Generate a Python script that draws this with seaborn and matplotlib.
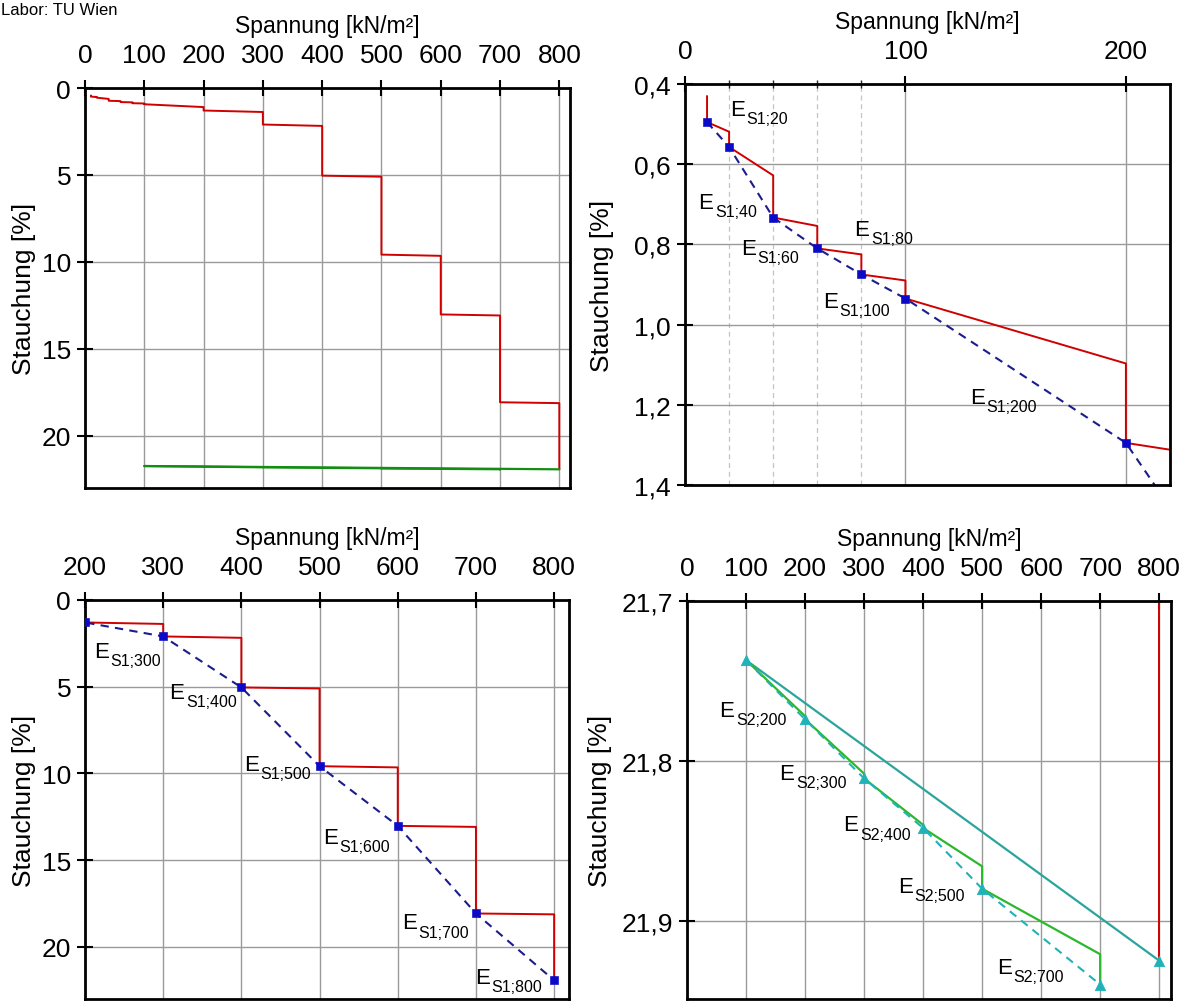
import matplotlib
matplotlib.use('Agg')
import matplotlib.pyplot as plt
import seaborn as sns
from matplotlib.ticker import FuncFormatter, FixedLocator

# load path (first loading incl. creep steps)
load_sigma = [10, 10, 20, 20, 40, 40, 60, 60, 80, 80, 100, 100, 200, 200,
              300, 300, 400, 400, 500, 500, 600, 600, 700, 700, 800, 800]
load_eps = [0.43, 0.495, 0.519, 0.557, 0.628, 0.733, 0.754, 0.81, 0.825, 0.875,
            0.89, 0.935, 1.097, 1.295, 1.38, 2.10, 2.18, 5.04, 5.10, 9.58,
            9.65, 13.02, 13.08, 18.07, 18.12, 21.925]

# end points of each first-loading step (E_S1)
s1_sigma = [10, 20, 40, 60, 80, 100, 200, 300, 400, 500, 600, 700, 800]
s1_eps = [0.495, 0.557, 0.733, 0.81, 0.875, 0.935, 1.295, 2.10, 5.04, 9.58,
          13.02, 18.07, 21.925]

# unloading
unload_sigma = [800, 100]
unload_eps = [21.925, 21.737]

# reloading path
reload_sigma = [100, 200, 200, 300, 300, 400, 400, 500, 500, 700, 700]
reload_eps = [21.737, 21.772, 21.774, 21.808, 21.811, 21.840, 21.842, 21.866,
              21.880, 21.921, 21.940]

# end points of reloading steps (E_S2)
s2_sigma = [100, 200, 300, 400, 500, 700]
s2_eps = [21.737, 21.774, 21.811, 21.842, 21.880, 21.940]

# which points get an E label, and the label offsets (points)
tr_labelled = [20, 40, 60, 80, 100, 200]
tr_offsets = [(0.6, 23.3), (-54, 6.8), (-55, -3.9), (-5, 28.7), (-59.5, -5.8), (-112.5, 29)]
bl_labelled = [300, 400, 500, 600, 700, 800]
bl_offsets = [(-50, -14.8), (-51.9, -7.9), (-54.5, -2.4), (-54, -12), (-53.3, -10.8), (-57.2, -1.7)]
br_labelled = [200, 300, 400, 500, 700]
br_offsets = [(-61.7, 2.2), (-60.9, -0.3), (-57.4, -1.8), (-60.5, -2.4), (-74.4, 8.6)]

RED = '#d00000'
BLUE = '#0a0ac8'
NAVY = '#1c1c8c'
GREEN_DARK = '#138e13'
GREEN = '#2cb82c'
TEAL = '#2aa59c'
CYAN = '#1fb3b8'

sns.set_theme(style='white')
plt.rcParams['font.family'] = ['Liberation Sans', 'DejaVu Sans']
plt.rcParams['text.color'] = 'black'
plt.rcParams['axes.labelcolor'] = 'black'

fig = plt.figure(figsize=(11.89, 10.03), dpi=100)
W, H = 1189.0, 1003.0


def add_axes(left, top, right, bottom):
    return fig.add_axes([left / W, 1 - bottom / H, (right - left) / W, (bottom - top) / H])


def comma(v, p):
    return ('%.1f' % v).replace('.', ',')


def style(ax, xlim, ylim, xticks, yticks, ylab_x, use_comma=False):
    ax.set_xlim(xlim)
    ax.set_ylim(ylim)
    ax.xaxis.tick_top()
    ax.xaxis.set_label_position('top')
    ax.set_xticks(xticks)
    ax.set_yticks(yticks)
    if use_comma:
        ax.yaxis.set_major_formatter(FuncFormatter(comma))
    ax.tick_params(which='major', direction='inout', length=12, width=1.5,
                   labelsize=19, colors='black', top=True, bottom=False,
                   left=True, right=False, pad=4)
    ax.tick_params(axis='x', which='major', pad=9)
    ax.grid(True, which='major', color='#9a9a9a', lw=1.0)
    ax.set_axisbelow(True)
    for s in ax.spines.values():
        s.set_visible(True)
        s.set_color('black')
        s.set_linewidth(2)
    ax.set_xlabel('Spannung [kN/m²]', fontsize=16.5, labelpad=8)
    ax.set_ylabel('Stauchung [%]', fontsize=19)
    ax.yaxis.set_label_coords(ylab_x, 0.5)


def line(ax, x, y, color, lw=1.4, ls='-'):
    sns.lineplot(x=x, y=y, sort=False, estimator=None, color=color, lw=lw,
                 ls=ls, ax=ax, legend=False)


def label(ax, sig, eps, names, offsets, tag):
    # "E" plus a lowered, smaller index text
    for n, (dx, dy) in zip(names, offsets):
        i = sig.index(n)
        xy = (sig[i], eps[i])
        ax.annotate('E', xy=xy, xytext=(dx, dy), textcoords='offset points',
                    ha='left', va='baseline', fontsize=16, color='black')
        ax.annotate('%s;%d' % (tag, n), xy=xy, xytext=(dx + 12, dy - 5.8),
                    textcoords='offset points', ha='left', va='baseline',
                    fontsize=11.5, color='black')


# top left: full test
ax1 = add_axes(85, 89, 570, 489)
line(ax1, load_sigma, load_eps, RED)
line(ax1, unload_sigma, unload_eps, GREEN_DARK, lw=1.6)
line(ax1, reload_sigma, reload_eps, GREEN_DARK, lw=1.6)
style(ax1, (0, 818), (23, 0), range(0, 801, 100), [0, 5, 10, 15, 20], -0.101)

# top right: first loading, low stresses
ax2 = add_axes(685, 85, 1170, 486)
line(ax2, load_sigma, load_eps, RED)
line(ax2, s1_sigma, s1_eps, NAVY, lw=1.5, ls=(0, (4, 3)))
sns.scatterplot(x=s1_sigma, y=s1_eps, marker='s', s=32, color=BLUE,
                edgecolor=BLUE, ax=ax2, zorder=5, legend=False)
style(ax2, (0, 220), (1.4, 0.4), [0, 100, 200], [0.4, 0.6, 0.8, 1.0, 1.2, 1.4],
      -0.146, True)
ax2.xaxis.set_minor_locator(FixedLocator([20, 40, 60, 80]))
ax2.tick_params(axis='x', which='minor', direction='inout', length=6, width=1,
                top=True, bottom=False)
ax2.grid(True, which='minor', axis='x', color='#c4c4c4', lw=0.9, ls=(0, (4, 3)))
label(ax2, s1_sigma, s1_eps, tr_labelled, tr_offsets, 'S1')

# bottom left: first loading, high stresses
ax3 = add_axes(85, 601, 569, 1000)
line(ax3, load_sigma, load_eps, RED)
line(ax3, s1_sigma, s1_eps, NAVY, lw=1.5, ls=(0, (4, 3)))
sns.scatterplot(x=s1_sigma, y=s1_eps, marker='s', s=32, color=BLUE,
                edgecolor=BLUE, ax=ax3, zorder=5, legend=False)
style(ax3, (200, 819), (23, 0), range(200, 801, 100), [0, 5, 10, 15, 20], -0.101)
label(ax3, s1_sigma, s1_eps, bl_labelled, bl_offsets, 'S1')

# bottom right: unloading / reloading
ax4 = add_axes(687, 602, 1171, 1000)
line(ax4, load_sigma, load_eps, RED)
line(ax4, unload_sigma, unload_eps, TEAL, lw=1.6)
line(ax4, reload_sigma, reload_eps, GREEN, lw=1.6)
line(ax4, s2_sigma, s2_eps, CYAN, lw=1.5, ls=(0, (4, 3)))
sns.scatterplot(x=s2_sigma + unload_sigma[:1], y=s2_eps + unload_eps[:1],
                marker='^', s=55, color=CYAN, edgecolor=CYAN, ax=ax4, zorder=5,
                legend=False)
style(ax4, (0, 820), (21.949, 21.7), range(0, 801, 100), [21.7, 21.8, 21.9],
      -0.155, True)
label(ax4, s2_sigma, s2_eps, br_labelled, br_offsets, 'S2')

fig.text(1 / W, 1 - 3 / H, 'Labor: TU Wien', fontsize=12, va='top', ha='left')

fig.savefig('out.png', dpi=100)
